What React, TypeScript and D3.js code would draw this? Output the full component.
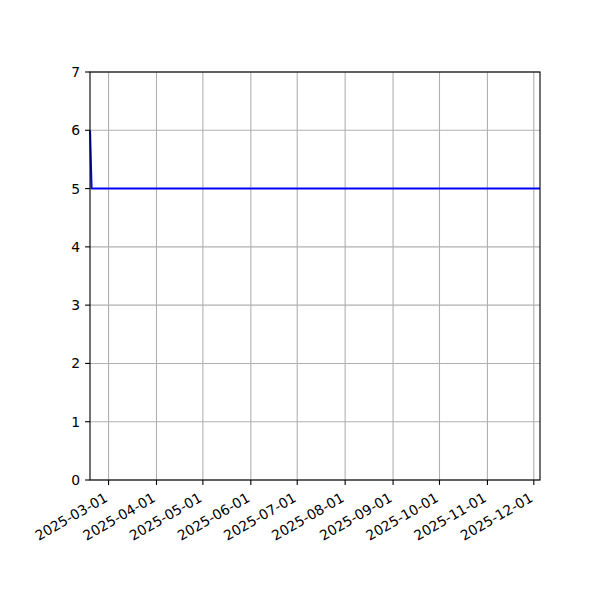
import * as d3 from 'd3';

type Point = {
  date: string;
  value: number;
};

// series: one high reading on the first day, then flat
const points: Point[] = [
  { date: '2025-02-17', value: 6 },
  { date: '2025-02-18', value: 5 },
  { date: '2025-12-05', value: 5 },
];

const yTicks = [0, 1, 2, 3, 4, 5, 6, 7];
const yDomain = [0, 7];

const width = 600;
const height = 600;
const margin = { top: 72, right: 60, bottom: 120, left: 90 };

const parse = d3.timeParse('%Y-%m-%d');
const fmt = d3.timeFormat('%Y-%m-%d');

export default function App() {
  const data = points.map((p) => ({ date: parse(p.date) as Date, value: p.value }));

  const x = d3
    .scaleTime()
    .domain(d3.extent(data, (d) => d.date) as [Date, Date])
    .range([margin.left, width - margin.right]);
  const y = d3
    .scaleLinear()
    .domain(yDomain)
    .range([height - margin.bottom, margin.top]);

  const xTicks = x.ticks(d3.timeMonth.every(1) as d3.TimeInterval);

  const line = d3
    .line<{ date: Date; value: number }>()
    .x((d) => x(d.date))
    .y((d) => y(d.value));

  const x0 = margin.left;
  const x1 = width - margin.right;
  const y0 = height - margin.bottom;
  const y1 = margin.top;

  const fontSize = 13.9;
  const tickLen = 4.9;
  const pad = 4.9;
  const textStyle = { fontFamily: 'DejaVu Sans', fontSize: fontSize, fill: '#000' };

  const gridLines = [];
  for (let i = 0; i < xTicks.length; i++) {
    const t = xTicks[i];
    gridLines.push(<line key={`gx${i}`} x1={x(t)} x2={x(t)} y1={y0} y2={y1} />);
  }
  for (let i = 0; i < yTicks.length; i++) {
    const t = yTicks[i];
    gridLines.push(<line key={`gy${i}`} x1={x0} x2={x1} y1={y(t)} y2={y(t)} />);
  }

  const xLabels = [];
  for (let i = 0; i < xTicks.length; i++) {
    const t = xTicks[i];
    const tx = x(t);
    const ty = y0 + tickLen + pad + fontSize * 0.78;
    xLabels.push(
      <g key={`xl${i}`}>
        <line x1={tx} x2={tx} y1={y0} y2={y0 + tickLen} stroke='#000' strokeWidth={1.1} />
        <text x={tx} y={ty} textAnchor='end' transform={`rotate(-30, ${tx}, ${ty})`} style={textStyle}>
          {fmt(t)}
        </text>
      </g>
    );
  }

  const yLabels = [];
  for (let i = 0; i < yTicks.length; i++) {
    const t = yTicks[i];
    yLabels.push(
      <g key={`yl${i}`}>
        <line x1={x0 - tickLen} x2={x0} y1={y(t)} y2={y(t)} stroke='#000' strokeWidth={1.1} />
        <text x={x0 - tickLen - pad} y={y(t)} textAnchor='end' dominantBaseline='central' style={textStyle}>
          {t}
        </text>
      </g>
    );
  }

  return (
    <svg
      width={width}
      height={height}
      style={{ position: 'absolute', left: 0, top: 0, background: '#fff' }}
    >
      <rect x={0} y={0} width={width} height={height} fill='#fff' />
      <g stroke='#b0b0b0' strokeWidth={1.1}>{gridLines}</g>
      <path d={line(data) ?? ''} fill='none' stroke='#0000ff' strokeWidth={2.1} strokeLinejoin='round' />
      <rect x={x0} y={y1} width={x1 - x0} height={y0 - y1} fill='none' stroke='#000' strokeWidth={1.1} />
      {xLabels}
      {yLabels}
    </svg>
  );
}
